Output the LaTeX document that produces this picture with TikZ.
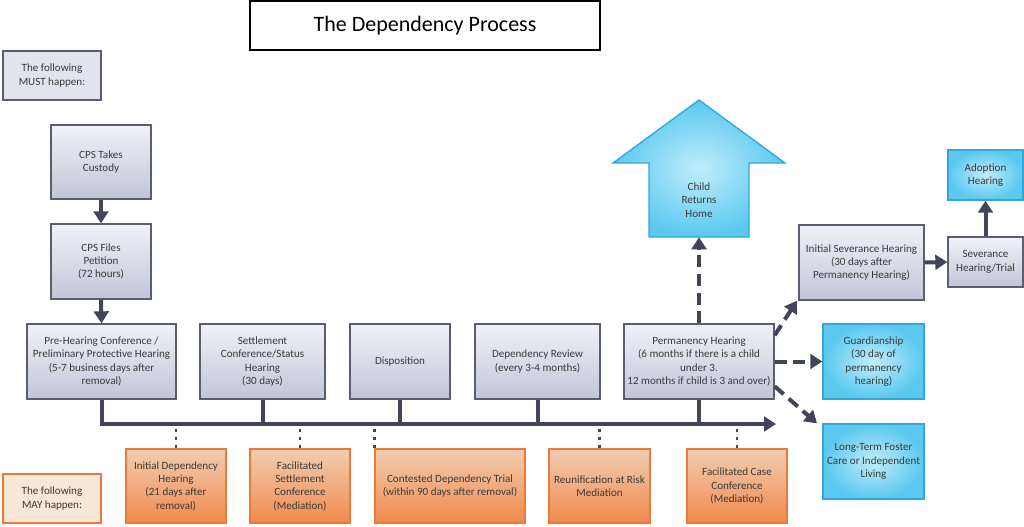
\documentclass[tikz,border=0pt]{standalone}
\usepackage{fontspec}
\setmainfont{Carlito}
\usetikzlibrary{arrows.meta,fit}
\definecolor{gbord}{HTML}{5B5E70}
\definecolor{gtop}{HTML}{F0F1F7}
\definecolor{gbot}{HTML}{C2C5D7}
\definecolor{obord}{HTML}{EA7A3A}
\definecolor{otop}{HTML}{F2CDB0}
\definecolor{obot}{HTML}{F0894C}
\definecolor{bbord}{HTML}{2FA9DC}
\definecolor{bin}{HTML}{C0EDFB}
\definecolor{bout}{HTML}{5AC8EF}
\definecolor{linec}{HTML}{424459}
\definecolor{txt}{HTML}{3A3A3A}
\tikzset{
  every node/.style={font=\fontsize{8.3}{10}\selectfont, text=txt, align=center, inner sep=0pt},
  gbox/.style={draw=gbord, line width=1pt, top color=gtop, bottom color=gbot},
  obox/.style={draw=obord, line width=1pt, top color=otop, bottom color=obot},
  bbox/.style={draw=bbord, line width=1pt, shading=radial, inner color=bin, outer color=bout},
  mainline/.style={draw=linec, line width=3pt},
  mainarrow/.style={mainline, -{Triangle[length=9pt,width=11pt]}},
  dasharrow/.style={draw=linec, line width=3pt, dash pattern=on 9pt off 5pt, -{Triangle[length=9pt,width=11pt]}},
  dotline/.style={draw=linec, line width=2pt, dash pattern=on 2.2pt off 4pt},
}
\begin{document}
\begin{tikzpicture}[x=0.75pt,y=-0.75pt]
\useasboundingbox (0,0) rectangle (1024,526);
% title
\node[draw=black, line width=0.8pt, fill=white, fit={(250,1) (600,50)}] (title) {};
\node[font=\fontsize{16.5}{19}\selectfont, text=black] (titletext) at (title.center) {The Dependency Process};
% legend boxes
\node[draw=gbord, line width=1.5pt, fill=gtop!70!gbot, fit={(3,51) (101,100)}] (must) {};
\node at (must.center) (musttext) {The following\\MUST happen:};
\node[draw=obord, line width=1.5pt, fill=otop!50!white, fit={(3,474) (101,523)}] (may) {};
\node at (may.center) (maytext) {The following\\MAY happen:};
% must boxes
\node[gbox, fit={(51,125) (151,199)}] (cust) {};
\node at (cust.center) {CPS Takes\\Custody};
\node[gbox, fit={(51,224) (151,299)}] (pet) {};
\node at (pet.center) {CPS Files\\Petition\\(72 hours)};
\node[gbox, fit={(27,324) (176,399)}] (pre) {};
\node at (pre.center) {Pre-Hearing Conference /\\Preliminary Protective Hearing\\(5-7 business days after\\removal)};
\node[gbox, fit={(200,324) (325,399)}] (settle) {};
\node at (settle.center) {Settlement\\Conference/Status\\Hearing\\(30 days)};
\node[gbox, fit={(350,324) (450,399)}] (disp) {};
\node at (disp.center) {Disposition};
\node[gbox, fit={(475,324) (600,399)}] (review) {};
\node at (review.center) {Dependency Review\\(every 3-4 months)};
\node[gbox, fit={(624,324) (774,399)}] (perm) {};
\node at (perm.center) {Permanency Hearing\\(6 months if there is a child\\under 3.\\12 months if child is 3 and over)};
\node[gbox, fit={(799,225) (924,300)}] (isev) {};
\node at (isev.center) {Initial Severance Hearing\\(30 days after\\Permanency Hearing)};
\node[gbox, fit={(948,237) (1023,287)}] (sev) {};
\node at (sev.center) {Severance\\Hearing/Trial};
% blue boxes
\node[bbox, fit={(948,150) (1023,200)}] (adopt) {};
\node at (adopt.center) {Adoption\\Hearing};
\node[bbox, fit={(823,324) (924,399)}] (guard) {};
\node at (guard.center) {Guardianship\\(30 day of\\permanency\\hearing)};
\node[bbox, fit={(823,424) (924,499)}] (foster) {};
\node at (foster.center) {Long-Term Foster\\Care or Independent\\Living};
\path[draw=bbord, line width=1pt, shading=radial, inner color=bin, outer color=bout]
  (613,163) -- (699,100) -- (785,163) -- (749,163) -- (749,237) -- (649,237) -- (649,163) -- cycle;
\node[fit={(649,163) (749,237)}] (home) {};
\node at (home.center) {Child\\Returns\\Home};
% orange boxes
\node[obox, fit={(126,449) (226,523)}] (idh) {};
\node at (idh.center) {Initial Dependency\\Hearing\\(21 days after\\removal)};
\node[obox, fit={(250,449) (350,523)}] (fsc) {};
\node at (fsc.center) {Facilitated\\Settlement\\Conference\\(Mediation)};
\node[obox, fit={(375,449) (525,523)}] (cdt) {};
\node at (cdt.center) {Contested Dependency Trial\\(within 90 days after removal)};
\node[obox, fit={(549,449) (650,523)}] (rar) {};
\node at (rar.center) {Reunification at Risk\\Mediation};
\node[obox, fit={(687,449) (787,523)}] (fcc) {};
\node at (fcc.center) {Facilitated Case\\Conference\\(Mediation)};
% connectors
\coordinate (tl0) at (101,424);
\coordinate (tlend) at (776,424);
\draw[mainarrow] (cust.south) -- (pet.north);
\draw[mainarrow] (pet.south) -- (pre.north);
\draw[mainarrow, line join=miter] (pre.south) |- (tlend);
\draw[mainline] (settle.south) -- (settle.south |- tl0);
\draw[mainline] (disp.south) -- (disp.south |- tl0);
\draw[mainline] (review.south) -- (review.south |- tl0);
\draw[mainline] (perm.south) -- (perm.south |- tl0);
\draw[dotline] (idh.north) -- ([yshift=-3.5]idh.north |- tl0);
\draw[dotline] (fsc.north) -- ([yshift=-3.5]fsc.north |- tl0);
\draw[dotline] (cdt.north west) -- ([yshift=-3.5]cdt.north west |- tl0);
\draw[dotline] (rar.north) -- ([yshift=-3.5]rar.north |- tl0);
\draw[dotline] (fcc.north) -- ([yshift=-3.5]fcc.north |- tl0);
\draw[dasharrow] (perm.north) -- (home.south);
\draw[dasharrow] ([yshift=-9]perm.north east) -- ([xshift=-1]isev.south west);
\draw[dasharrow] (perm.east) -- (guard.west);
\draw[dasharrow] ([yshift=10]perm.south east) -- ([xshift=-4]foster.north west);
\draw[mainarrow] (isev.east) -- (sev.west);
\draw[mainarrow] (sev.north) -- (adopt.south);
\end{tikzpicture}
\end{document}
